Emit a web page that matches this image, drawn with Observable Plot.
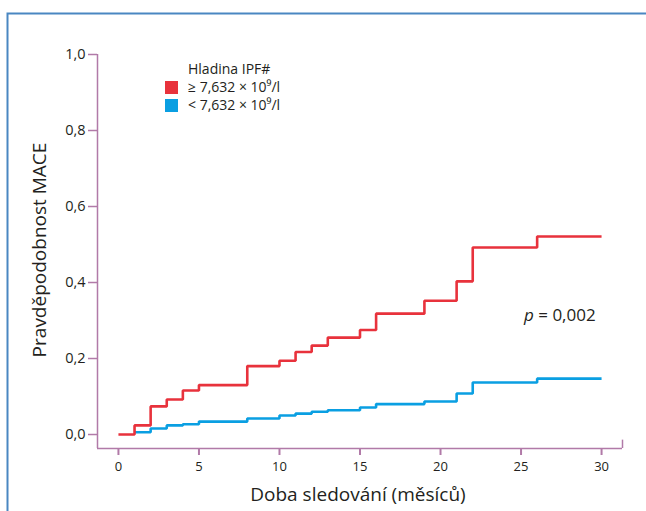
<!DOCTYPE html>
<html>
<head>
<meta charset="utf-8">
<script src="https://cdn.jsdelivr.net/npm/d3@7"></script>
<script src="https://cdn.jsdelivr.net/npm/@observablehq/plot@0.6"></script>
<style>
  html, body { margin: 0; padding: 0; background: #fff; }
  #chart { width: 646px; height: 511px; }
  svg { font-family: "Open Sans", sans-serif; }
</style>
</head>
<body>
<div id="chart"></div>
<script>
// ---- data ----
const months = [0, 1, 2, 3, 4, 5, 8, 10, 11, 12, 13, 15, 16, 19, 21, 22, 26, 30];
const highIPF = [0, 0.024, 0.074, 0.092, 0.116, 0.13, 0.18, 0.194, 0.217, 0.234, 0.255, 0.275, 0.318, 0.352, 0.403, 0.492, 0.521, 0.521];
const lowIPF  = [null, 0.006, 0.016, 0.024, 0.027, 0.034, 0.042, 0.05, 0.055, 0.06, 0.064, 0.071, 0.08, 0.087, 0.108, 0.137, 0.147, 0.147];
const seriesNames = ["≥ 7,632 × 10⁹/l", "< 7,632 × 10⁹/l"];
const seriesColors = ["#e8323c", "#0a9fe2"];
const xTicks = [0, 5, 10, 15, 20, 25, 30];
const yTicks = [0, 0.2, 0.4, 0.6, 0.8, 1.0];
const legendTitle = "Hladina IPF#";
const pLabel = "0,002";
const xLabel = "Doba sledování (měsíců)";
const yLabel = "Pravděpodobnost MACE";

const rows = [];
months.forEach((m, i) => {
  if (lowIPF[i] != null) rows.push({t: m, v: lowIPF[i], s: seriesNames[1]});
});
months.forEach((m, i) => {
  if (highIPF[i] != null) rows.push({t: m, v: highIPF[i], s: seriesNames[0]});
});

const axisColor = "#b17aa8";
const textColor = "#231f20";
const xDom = [-1.3, 31.3];
const yDom = [-0.0368, 1];

const plot = Plot.plot({
  width: 646,
  height: 511,
  marginLeft: 97,
  marginRight: 24,
  marginTop: 54,
  marginBottom: 63,
  x: {domain: xDom},
  y: {domain: yDom},
  color: {domain: seriesNames, range: seriesColors},
  style: {fontFamily: "Open Sans, sans-serif", color: textColor, background: "white"},
  marks: [
    Plot.ruleX([xDom[0]], {y1: yDom[0], y2: yDom[1], stroke: axisColor, strokeWidth: 1.5}),
    Plot.ruleY([yDom[0]], {x1: xDom[0], x2: xDom[1], stroke: axisColor, strokeWidth: 1.5}),
    Plot.ruleX([xDom[1]], {y1: yDom[0], y2: yDom[0] + 0.022, stroke: axisColor, strokeWidth: 1.5}),
    Plot.axisY({ticks: yTicks, tickSize: 9, tickPadding: 3, stroke: axisColor, strokeWidth: 1.5,
      tickFormat: d => d.toFixed(1).replace(".", ","), fontSize: 14.5, fill: textColor, label: null}),
    Plot.axisX({ticks: xTicks, tickSize: 7, tickPadding: 6, stroke: axisColor, strokeWidth: 2,
      tickFormat: d => String(d), fontSize: 13, fill: textColor, label: null}),
    Plot.line(rows, {x: "t", y: "v", z: "s", stroke: "s", curve: "step-after", strokeWidth: 2.6, strokeLinejoin: "miter", strokeLinecap: "butt"})
  ]
});

document.getElementById("chart").appendChild(plot);

const svg = d3.select(plot);
// frame
svg.append("path").attr("d", "M7.5,511 V13.5 H646").attr("fill", "none").attr("stroke", "#4a87c2").attr("stroke-width", 2);

// axis labels
svg.append("text").attr("x", 358).attr("y", 501).attr("text-anchor", "middle")
  .attr("font-size", 19).attr("fill", textColor).text(xLabel);
svg.append("text").attr("transform", "translate(46,250) rotate(-90)").attr("text-anchor", "middle")
  .attr("font-size", 19).attr("fill", textColor).text(yLabel);

// legend
const lg = svg.append("g").attr("font-size", 14).attr("fill", textColor).attr("text-anchor", "start");
lg.append("text").attr("x", 188).attr("y", 74).text(legendTitle);
seriesNames.forEach((n, i) => {
  lg.append("rect").attr("x", 165).attr("y", 81 + i * 18).attr("width", 13).attr("height", 13).attr("fill", seriesColors[i]);
  lg.append("text").attr("x", 188).attr("y", 92 + i * 18).text(n);
});

// p-value
const pt = svg.append("text").attr("x", 524).attr("y", 321).attr("font-size", 17).attr("fill", textColor).attr("text-anchor", "start");
pt.append("tspan").attr("font-style", "italic").text("p");
pt.append("tspan").text(" = " + pLabel);
</script>
</body>
</html>
